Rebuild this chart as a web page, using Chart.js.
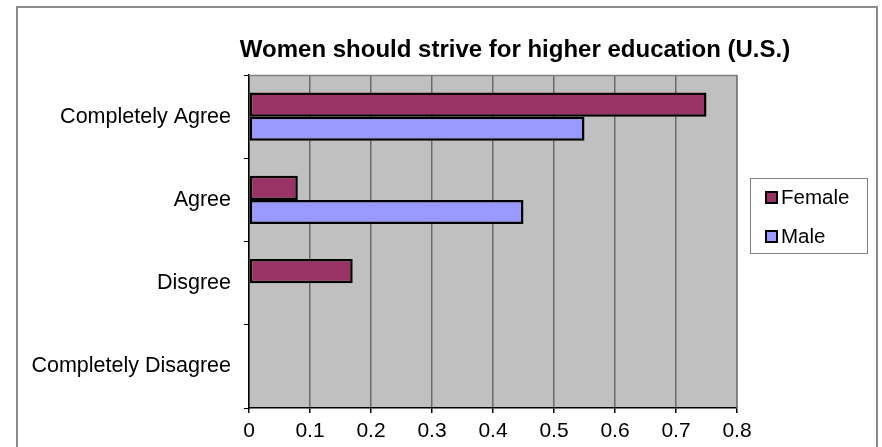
<!DOCTYPE html>
<html>
<head>
<meta charset="utf-8">
<style>
  html, body { margin: 0; padding: 0; background: #ffffff; }
  canvas { display: block; }
</style>
<script src="https://cdn.jsdelivr.net/npm/chart.js@4/dist/chart.umd.min.js"></script>
</head>
<body>
<canvas id="chart" width="882" height="447"></canvas>
<script>
// Survey answers and the share of each group giving them
const chartTitle = 'Women should strive for higher education (U.S.)';
const categories = ['Completely Agree', 'Agree', 'Disgree', 'Completely Disagree'];
const seriesNames = ['Female', 'Male'];
const femaleValues = [0.75, 0.08, 0.17, 0];
const maleValues = [0.55, 0.45, 0, 0];
const xTickLabels = ['0', '0.1', '0.2', '0.3', '0.4', '0.5', '0.6', '0.7', '0.8'];

const seriesColors = ['#993366', '#9999FF'];
const FONT = '"Liberation Sans", Arial, sans-serif';

// Outer frame, grey plot background and plot border
const framePlugin = {
  id: 'frame',
  beforeDraw(chart) {
    const ctx = chart.ctx;
    const a = chart.chartArea;
    ctx.save();
    ctx.fillStyle = '#ffffff';
    ctx.fillRect(0, 0, chart.width, chart.height);
    ctx.strokeStyle = '#8c8c8c';
    ctx.lineWidth = 2;
    ctx.beginPath();
    ctx.moveTo(17, chart.height);
    ctx.lineTo(17, 7);
    ctx.lineTo(877, 7);
    ctx.lineTo(877, chart.height);
    ctx.stroke();
    ctx.fillStyle = '#C0C0C0';
    ctx.fillRect(a.left, a.top, a.right - a.left, a.bottom - a.top);
    ctx.restore();
  },
  afterDatasetsDraw(chart) {
    const ctx = chart.ctx;
    const a = chart.chartArea;
    ctx.save();
    ctx.strokeStyle = '#808080';
    ctx.lineWidth = 1.5;
    ctx.beginPath();
    ctx.moveTo(a.left, a.top + 0.5);
    ctx.lineTo(a.right, a.top + 0.5);
    ctx.lineTo(a.right, a.bottom);
    ctx.stroke();
    ctx.restore();
  }
};

// Bold title over the plot
const titlePlugin = {
  id: 'chartTitle',
  afterDraw(chart) {
    const ctx = chart.ctx;
    ctx.save();
    ctx.fillStyle = '#000000';
    ctx.font = 'bold 24px ' + FONT;
    ctx.textAlign = 'center';
    ctx.textBaseline = 'middle';
    ctx.fillText(chartTitle, 515, 50);
    ctx.restore();
  }
};

// Boxed legend to the right of the plot
const legendPlugin = {
  id: 'boxLegend',
  afterDraw(chart) {
    const ctx = chart.ctx;
    ctx.save();
    ctx.fillStyle = '#ffffff';
    ctx.fillRect(750, 178, 117, 75);
    ctx.strokeStyle = '#808080';
    ctx.lineWidth = 1;
    ctx.strokeRect(750.5, 178.5, 117, 75);
    ctx.font = '20.5px ' + FONT;
    ctx.textAlign = 'left';
    ctx.textBaseline = 'middle';
    const rows = [197, 236];
    seriesNames.forEach((name, i) => {
      const cy = rows[i];
      ctx.fillStyle = seriesColors[i];
      ctx.fillRect(766, cy - 5, 11, 11);
      ctx.strokeStyle = '#000000';
      ctx.lineWidth = 2;
      ctx.strokeRect(766, cy - 5, 11, 11);
      ctx.fillStyle = '#000000';
      ctx.fillText(name, 781, cy + 1);
    });
    ctx.restore();
  }
};

new Chart(document.getElementById('chart'), {
  type: 'bar',
  data: {
    labels: categories,
    datasets: [
      {
        label: seriesNames[0],
        data: femaleValues,
        backgroundColor: seriesColors[0],
        borderColor: '#000000',
        borderWidth: 2.5,
        borderSkipped: false,
        categoryPercentage: 0.58,
        barPercentage: 1
      },
      {
        label: seriesNames[1],
        data: maleValues,
        backgroundColor: seriesColors[1],
        borderColor: '#000000',
        borderWidth: 2.5,
        borderSkipped: false,
        categoryPercentage: 0.58,
        barPercentage: 1
      }
    ]
  },
  options: {
    indexAxis: 'y',
    responsive: false,
    animation: false,
    devicePixelRatio: 1,
    layout: { padding: { top: 75, right: 145, bottom: 0, left: 0 } },
    plugins: {
      legend: { display: false },
      title: { display: false },
      tooltip: { enabled: false }
    },
    scales: {
      x: {
        type: 'linear',
        min: 0,
        max: 0.8,
        ticks: {
          stepSize: 0.1,
          color: '#000000',
          font: { family: FONT, size: 21 },
          padding: 6,
          maxRotation: 0,
          autoSkip: false,
          callback: (v, i) => xTickLabels[i]
        },
        grid: {
          color: '#6a6a6a',
          lineWidth: 1.5,
          drawTicks: true,
          tickLength: 5,
          tickColor: '#000000'
        },
        border: { display: true, color: '#000000', width: 1.5 },
        afterFit(scale) { scale.height = 39; }
      },
      y: {
        type: 'category',
        ticks: {
          color: '#000000',
          font: { family: FONT, size: 21.5 },
          padding: 13
        },
        grid: {
          display: true,
          drawOnChartArea: false,
          drawTicks: true,
          tickLength: 5,
          tickColor: '#000000',
          offset: true
        },
        border: { display: true, color: '#000000', width: 1.5 },
        afterFit(scale) { scale.width = 249; }
      }
    }
  },
  plugins: [framePlugin, titlePlugin, legendPlugin]
});
</script>
</body>
</html>
